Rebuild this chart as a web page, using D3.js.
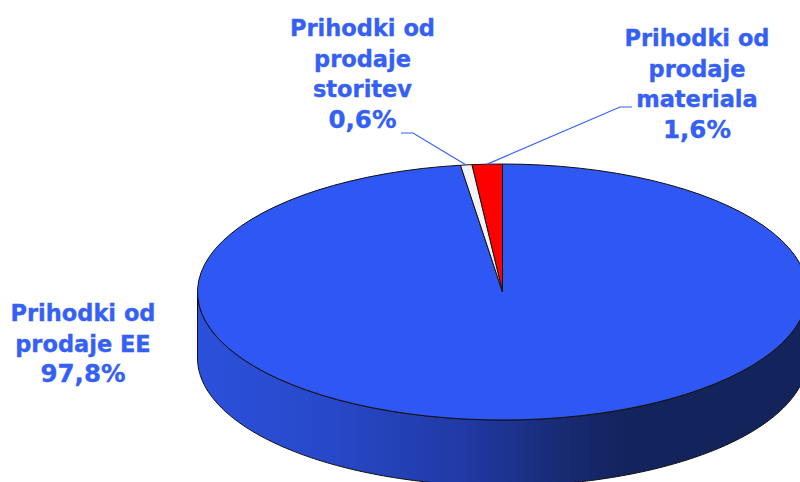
<!DOCTYPE html>
<html>
<head>
<meta charset="utf-8">
<script src="https://cdn.jsdelivr.net/npm/d3@7"></script>
<style>
html, body { margin: 0; padding: 0; background: #fff; }
svg { display: block; }
.lbl { font-family: "DejaVu Sans", sans-serif; font-weight: bold; font-size: 22.5px; fill: #3560f6; stroke: #3560f6; stroke-width: 0.35px; text-anchor: middle; }
.pct { font-size: 24.5px; }
</style>
</head>
<body>
<div id="chart"></div>
<script>
// chart values, clockwise starting with the red slice
var categories = ['Prihodki od prodaje materiala', 'Prihodki od prodaje EE', 'Prihodki od prodaje storitev'];
var values = [1.6, 97.8, 0.6];
var colors = ['#ff0000', '#2e57f3', '#f4f4f4'];
var labelLines = [
    ['Prihodki od', 'prodaje', 'materiala', '1,6%'],
    ['Prihodki od', 'prodaje EE', '97,8%'],
    ['Prihodki od', 'prodaje', 'storitev', '0,6%']
];

var width = 800;
var height = 482;

// pie ellipse
var cx = 502.5;
var cy = 292;
var rx = 305;
var ry = 128;
var depth = 66;

var svg = d3.select('#chart')
    .append('svg')
    .attr('width', width)
    .attr('height', height);

// side of the pie goes dark towards the right
var grad = svg.append('defs').append('linearGradient')
    .attr('id', 'side')
    .attr('gradientUnits', 'userSpaceOnUse')
    .attr('x1', cx - rx).attr('x2', cx + rx)
    .attr('y1', 0).attr('y2', 0);
grad.append('stop').attr('offset', '0').attr('stop-color', '#2b50dc');
grad.append('stop').attr('offset', '0.22').attr('stop-color', '#2748c8');
grad.append('stop').attr('offset', '0.44').attr('stop-color', '#2039a4');
grad.append('stop').attr('offset', '0.6').attr('stop-color', '#182a72');
grad.append('stop').attr('offset', '0.71').attr('stop-color', '#13235c');
grad.append('stop').attr('offset', '1').attr('stop-color', '#13235c');

// front half of the rim, from the right end round to the left end
var rim = d3.range(90, 270.5, 1).map(function(d){ return d * Math.PI / 180; });
var side = d3.area()
    .x(function(a){ return cx + rx * Math.sin(a); })
    .y0(function(a){ return cy - ry * Math.cos(a); })
    .y1(function(a){ return cy - ry * Math.cos(a) + depth; });

svg.append('path')
    .attr('d', side(rim))
    .attr('fill', 'url(#side)')
    .attr('stroke', '#111')
    .attr('stroke-width', 1);

// top of the pie, a normal arc squashed into an ellipse
// red slice has to end at 12 o'clock so the start is pulled back by its share
var start = -values[0] / d3.sum(values) * 2 * Math.PI;
var pie = d3.pie()
    .sort(null)
    .value(function(d){ return d; })
    .startAngle(start)
    .endAngle(start + 2 * Math.PI);
var arcs = pie(values);
var arc = d3.arc().innerRadius(0).outerRadius(rx);

svg.append('g')
    .attr('transform', 'translate(' + cx + ',' + cy + ') scale(1,' + (ry / rx) + ')')
    .selectAll('path')
    .data(arcs)
    .enter()
    .append('path')
    .attr('d', arc)
    .attr('fill', function(d, i){ return colors[i]; })
    .attr('stroke', '#111')
    .attr('stroke-width', 1)
    .attr('vector-effect', 'non-scaling-stroke');

// leader lines start on the middle of each small slice
function rimPoint(a) {
    return [cx + rx * Math.sin(a), cy - ry * Math.cos(a)];
}
var leader = d3.line();
var midRed = (arcs[0].startAngle + arcs[0].endAngle) / 2;
var midWhite = (arcs[2].startAngle + arcs[2].endAngle) / 2;

svg.append('path')
    .attr('d', leader([rimPoint(midRed), [620, 107], [632, 107]]))
    .attr('fill', 'none').attr('stroke', '#3560f6').attr('stroke-width', 1.2);
svg.append('path')
    .attr('d', leader([rimPoint(midWhite), [413, 133], [401, 133]]))
    .attr('fill', 'none').attr('stroke', '#3560f6').attr('stroke-width', 1.2);

// labels, the percent on the last line runs a bit bigger
var labelPos = [
    { x: 697, y: 46 },
    { x: 83, y: 321 },
    { x: 362.5, y: 36 }
];
var lineStep = 30.7;
labelLines.forEach(function(lines, i){
    var text = svg.append('text').attr('class', 'lbl');
    lines.forEach(function(l, j){
        text.append('tspan')
            .attr('class', j === lines.length - 1 ? 'pct' : null)
            .attr('x', labelPos[i].x)
            .attr('y', labelPos[i].y + j * lineStep)
            .text(l);
    });
});
</script>
</body>
</html>
